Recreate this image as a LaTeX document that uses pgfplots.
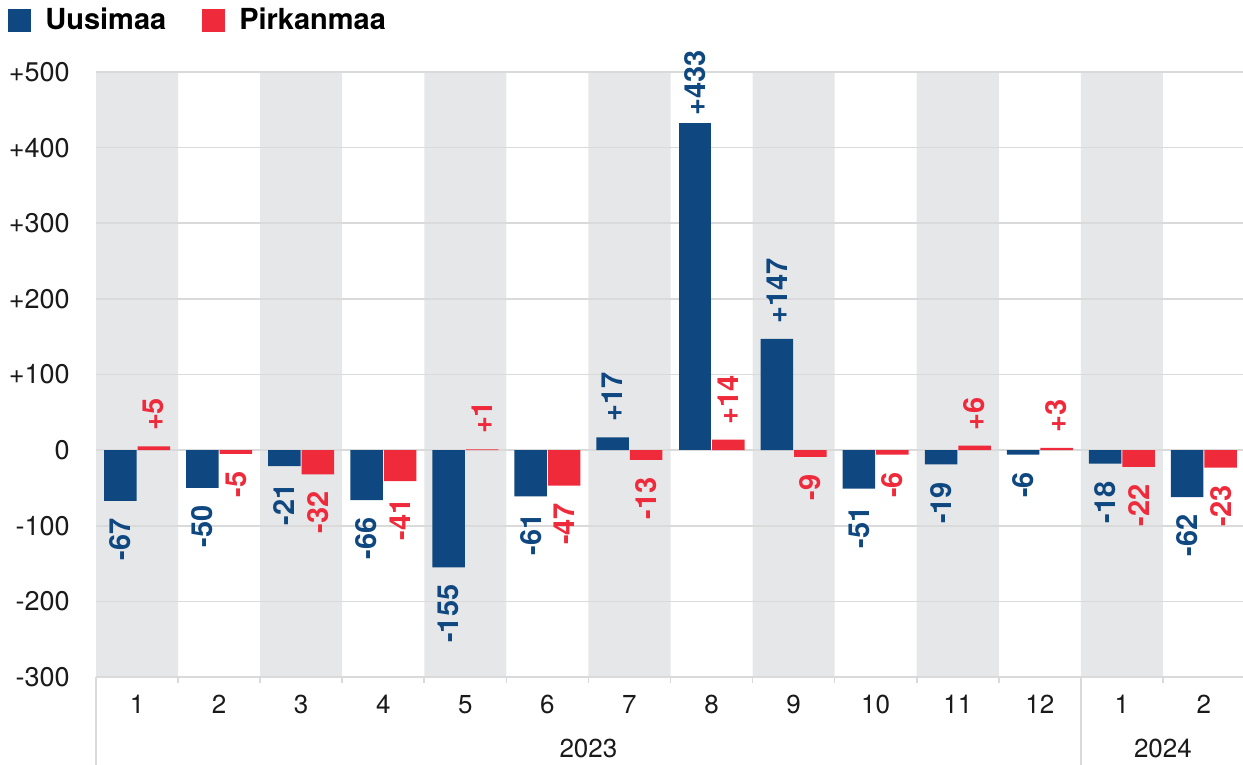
\documentclass[border=0pt]{standalone}
\usepackage{fontspec}
\setmainfont{TeX Gyre Heros}
\usepackage{graphicx}
\usepackage{pgfplots}
\pgfplotsset{compat=1.18}
\definecolor{ublue}{HTML}{0F4880}
\definecolor{pred}{HTML}{EE2A3B}
\definecolor{band}{HTML}{E6E7E9}
\definecolor{gridc}{HTML}{DADADA}
\definecolor{txt}{HTML}{1A1A1A}
\pgfplotsset{
  base/.style={at={(0,0)}, anchor=south west,
    scale only axis, width=574.5pt, height=302.5pt, xmin=0.5, xmax=14.5},
  lab/.style 2 args={nodes near coords={\rotatebox{90}{\pgfmathprintnumber[showpos,assume math mode=true]{\pgfplotspointmeta}}},
    every node near coord/.append style={anchor=#1,
     inner ysep=#2, inner xsep=0pt, font=\bfseries\fontsize{14.5}{16}\selectfont}},
  ub/.style={ybar, bar width=16.25pt, bar shift=-8.375pt, fill=ublue, draw=none,
    every node near coord/.append style={text=ublue, xshift=-8.375pt}},
  pr/.style={ybar, bar width=16.25pt, bar shift=8.375pt, fill=pred, draw=none,
    every node near coord/.append style={text=pred, xshift=8.375pt}},
}
\begin{document}
\begin{tikzpicture}
\useasboundingbox (-48pt,-44pt) rectangle (573.5pt,338.5pt);
% background bands
\begin{axis}[base, ymin=0, ymax=1, hide axis]
\addplot[ybar interval, fill=band, draw=none] coordinates {
(0.5,1) (1.5,0) (2.5,1) (3.5,0) (4.5,1) (5.5,0) (6.5,1) (7.5,0) (8.5,1) (9.5,0) (10.5,1) (11.5,0) (12.5,1) (13.5,0) (14.5,0)};
\end{axis}
\begin{axis}[
  base,
  ymin=-300, ymax=500,
  clip=false,
  axis line style={draw=none},
  xtick={1,...,14},
  xticklabels={1,2,3,4,5,6,7,8,9,10,11,12,1,2},
  minor xtick={1.5,2.5,...,13.5},
  xtick pos=bottom, ytick pos=left,
  tick align=outside,
  major tick length=0pt, minor tick length=3pt,
  minor x tick style={gridc, line width=0.8pt},
  ytick={-300,-200,...,500},
  yticklabels={-300,-200,-100,0,+100,+200,+300,+400,+500},
  ymajorgrids, grid style={gridc, line width=0.8pt},
  yticklabel style={anchor=east, inner sep=0pt, xshift=-13pt, font=\fontsize{13.5}{16}\selectfont, text=txt},
  xticklabel style={anchor=north, inner sep=0pt, yshift=-9pt, font=\fontsize{13}{15}\selectfont, text=txt},
  legend style={at={(axis description cs:0,1)}, anchor=west, xshift=-44pt, yshift=26pt,
    draw=none, fill=none, inner sep=0pt, legend columns=2,
    font=\bfseries\fontsize{14.5}{17}\selectfont,
    /tikz/every odd column/.append style={column sep=5pt},
    /tikz/every even column/.append style={column sep=16pt}},
  legend image code/.code={\fill[#1, draw=none] (0pt,-5.75pt) rectangle (11.5pt,5.75pt);},
]
% Uusimaa
\addplot[ub, lab={south}{7.5pt}] coordinates {(7,17) (9,147)};
\addlegendentry{Uusimaa}
\addplot[ub, lab={south}{3.5pt}, forget plot] coordinates {(8,433)};
\addplot[ub, lab={north}{8.5pt}, forget plot] coordinates {
(1,-67) (2,-50) (3,-21) (4,-66) (5,-155) (6,-61) (10,-51) (11,-19) (12,-6) (13,-18) (14,-62)};
% Pirkanmaa
\addplot[pr, lab={south}{7.5pt}] coordinates {(1,5) (5,1) (8,14) (11,6) (12,3)};
\addlegendentry{Pirkanmaa}
\addplot[pr, lab={north}{8.5pt}, forget plot] coordinates {
(2,-5) (3,-32) (4,-41) (6,-47) (7,-13) (9,-9) (10,-6) (13,-22) (14,-23)};
\draw[gridc, line width=0.8pt] (axis cs:0.5,-300) -- ([yshift=-44pt]axis cs:0.5,-300);
\draw[gridc, line width=0.8pt] (axis cs:12.5,-300) -- ([yshift=-44pt]axis cs:12.5,-300);
\node[font=\fontsize{13}{15}\selectfont, text=txt] at ([yshift=-35.5pt]axis cs:6.5,-300) {2023};
\node[font=\fontsize{13}{15}\selectfont, text=txt] at ([yshift=-35.5pt]axis cs:13.5,-300) {2024};
\end{axis}
\end{tikzpicture}
\end{document}
